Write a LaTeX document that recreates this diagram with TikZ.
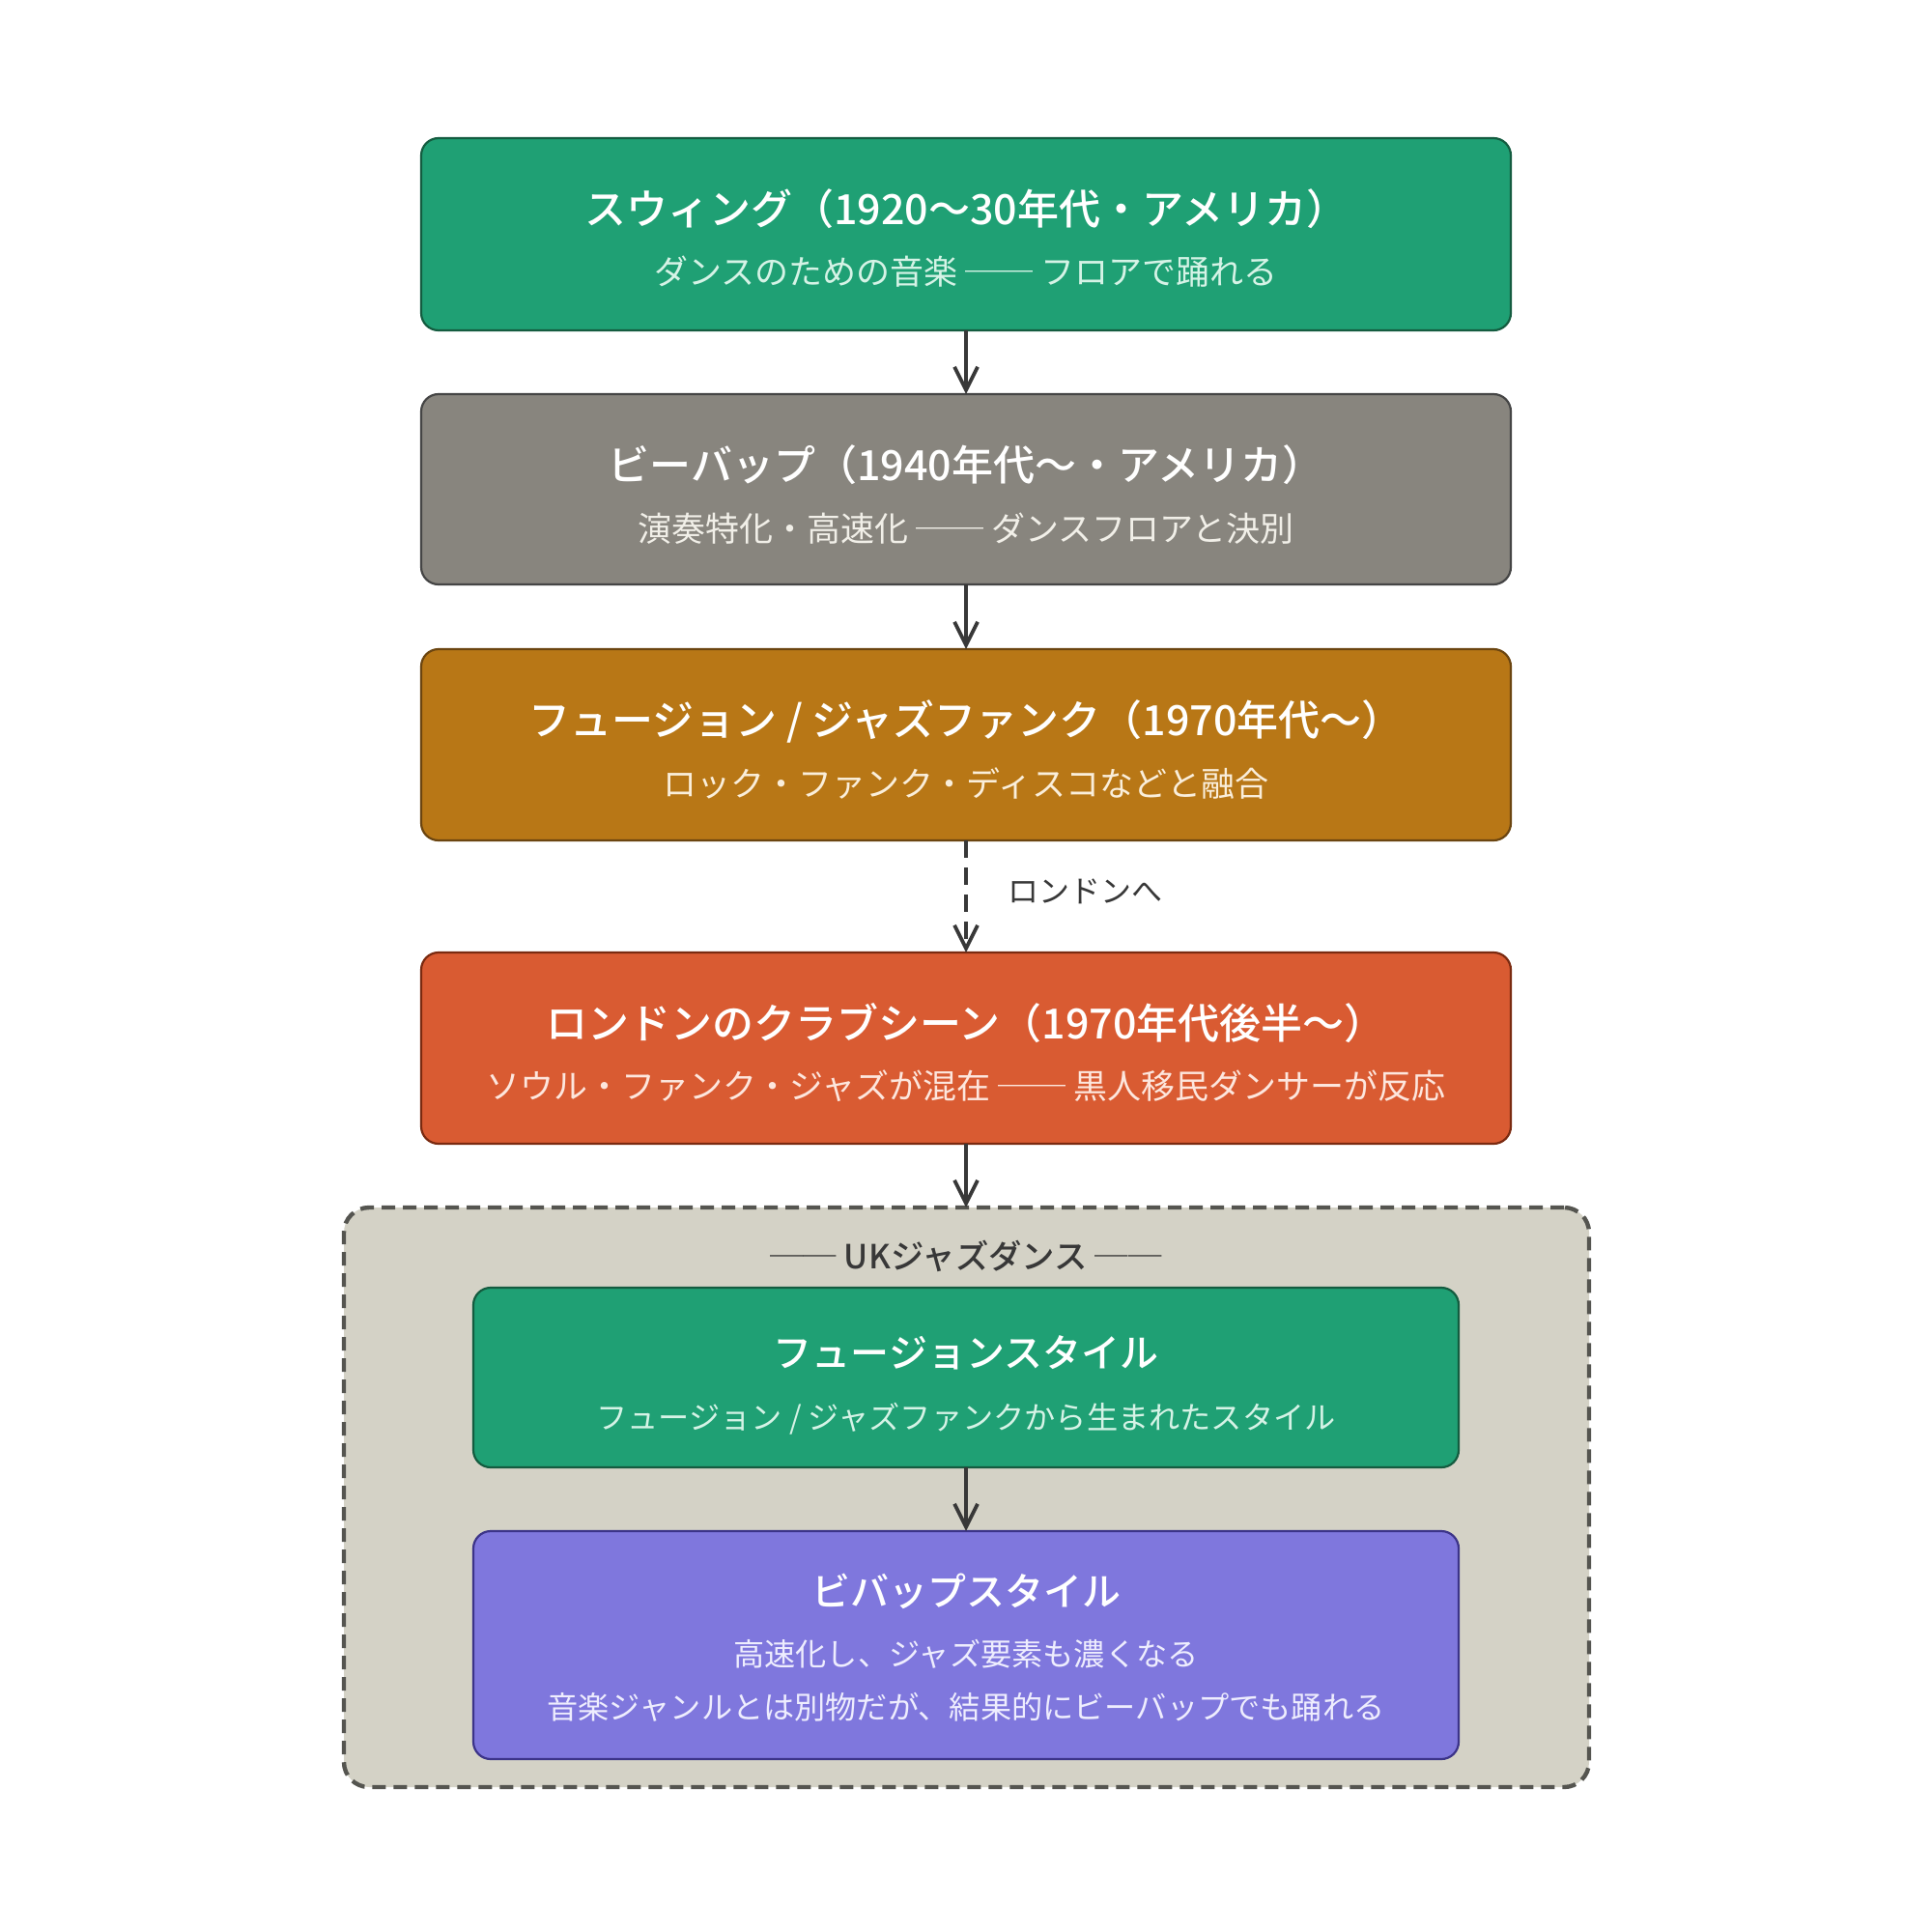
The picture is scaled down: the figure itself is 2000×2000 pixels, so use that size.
\documentclass[tikz,border=0pt]{standalone}
\usepackage{fontspec}
\newfontfamily\jp{Noto Sans CJK JP}
\newfontfamily\jpm{Noto Sans CJK JP Medium}
\usetikzlibrary{arrows.meta}
\definecolor{gfill}{HTML}{1FA074}
\definecolor{gline}{HTML}{145C40}
\definecolor{gsub}{HTML}{D5F3E6}
\definecolor{yfill}{HTML}{88857E}
\definecolor{yline}{HTML}{454545}
\definecolor{ysub}{HTML}{F1EFE8}
\definecolor{ofill}{HTML}{B87716}
\definecolor{oline}{HTML}{6B4510}
\definecolor{osub}{HTML}{FAEEDA}
\definecolor{rfill}{HTML}{D95B32}
\definecolor{rline}{HTML}{7A2A10}
\definecolor{rsub}{HTML}{FDE6DD}
\definecolor{pfill}{HTML}{7F77DD}
\definecolor{pline}{HTML}{3C3489}
\definecolor{psub}{HTML}{EEEDFE}
\definecolor{cfill}{HTML}{D4D2C6}
\definecolor{cline}{HTML}{555550}
\definecolor{arr}{HTML}{383838}
\tikzset{
  box/.style={draw, line width=1.1pt, rounded corners=9pt, inner sep=0pt, outer sep=0pt, minimum width=564pt},
  ttl/.style={anchor=base, text=white, font=\jpm\fontsize{21.5pt}{26pt}\selectfont, inner sep=0pt},
  sub/.style={anchor=base, font=\jp\fontsize{17.5pt}{21pt}\selectfont, inner sep=0pt},
  ittl/.style={anchor=base, text=white, font=\jpm\fontsize{20pt}{24pt}\selectfont, inner sep=0pt},
  isub/.style={anchor=base, font=\jp\fontsize{16.1pt}{20pt}\selectfont, inner sep=0pt},
  conn/.style={draw=arr, line width=1.9pt, -{Straight Barb[length=12pt,width=12pt,line width=1.9pt]}},
  lbl/.style={anchor=base west, text=arr, font=\jp\fontsize{16pt}{20pt}\selectfont, inner sep=0pt},
}
\begin{document}
\begin{tikzpicture}[x=0.5pt,y=-0.5pt]
\useasboundingbox[fill=white] (0,0) rectangle (2000,2000);

% container
\node[draw=cline, fill=cfill, line width=2.2pt, dash pattern=on 7pt off 4pt, rounded corners=13pt,
      minimum width=644.5pt, minimum height=300pt, inner sep=0pt, outer sep=0pt] (uk) at (1000.5,1550) {};
\node[anchor=base, text=arr, font=\jpm\fontsize{17.2pt}{21pt}\selectfont, inner sep=0pt] (ukt) at (1000,1313) {── UKジャズダンス ──};

% boxes
\node[box, fill=gfill, draw=gline, minimum height=99.5pt] (b1) at (1000,242.5) {};
\node[ttl] (b1t) at (1000,233) {スウィング（1920〜30年代・アメリカ）};
\node[sub, text=gsub] (b1s) at (1000,295) {ダンスのための音楽 ── フロアで踊れる};

\node[box, fill=yfill, draw=yline, minimum height=98.5pt] (b2) at (1000,506.5) {};
\node[ttl] (b2t) at (1000,497) {ビーバップ（1940年代〜・アメリカ）};
\node[sub, text=ysub] (b2s) at (1000,560) {演奏特化・高速化 ── ダンスフロアと決別};

\node[box, fill=ofill, draw=oline, minimum height=99pt] (b3) at (1000,771) {};
\node[ttl] (b3t) at (1000,761) {フュージョン / ジャズファンク（1970年代〜）};
\node[sub, text=osub] (b3s) at (1000,824) {ロック・ファンク・ディスコなどと融合};

\node[box, fill=rfill, draw=rline, minimum height=99pt] (b4) at (1000,1085) {};
\node[ttl] (b4t) at (1000,1075) {ロンドンのクラブシーン（1970年代後半〜）};
\node[sub, text=rsub] (b4s) at (1000,1137) {ソウル・ファンク・ジャズが混在 ── 黒人移民ダンサーが反応};

\node[box, fill=gfill, draw=gline, minimum width=510pt, minimum height=93pt] (i1) at (1000,1426) {};
\node[ittl] (i1t) at (1000,1415) {フュージョンスタイル};
\node[isub, text=gsub] (i1s) at (1000,1479) {フュージョン / ジャズファンクから生まれたスタイル};

\node[box, fill=pfill, draw=pline, minimum width=510pt, minimum height=118pt] (i2) at (1000,1703) {};
\node[ittl] (i2t) at (1000,1662) {ビバップスタイル};
\node[isub, text=psub] (i2s) at (1000,1724) {高速化し、ジャズ要素も濃くなる};
\node[isub, text=psub] (i2u) at (1000,1779) {音楽ジャンルとは別物だが、結果的にビーバップでも踊れる};

% connectors
\draw[conn] (b1.south) -- (b2.north);
\draw[conn] (b2.south) -- (b3.north);
\draw[conn, dash pattern=on 9pt off 5pt] (b3.south) -- (b4.north);
\node[lbl] (lond) at (1043,934) {ロンドンへ};
\draw[conn] (b4.south) -- (uk.north -| b4.south);
\draw[conn] (i1.south) -- (i2.north);
\end{tikzpicture}
\end{document}
